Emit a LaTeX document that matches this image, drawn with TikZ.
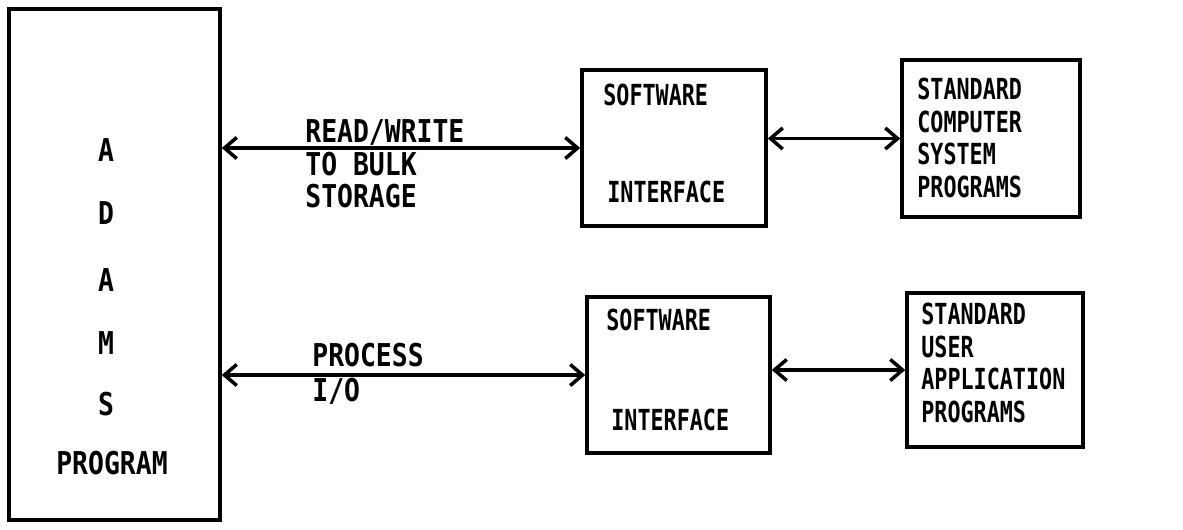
\documentclass[tikz,border=0pt]{standalone}
\usepackage{fontspec}
\setmainfont[FakeStretch=0.75]{DejaVu Sans Mono}
\newfontfamily\widemono[FakeStretch=0.84]{DejaVu Sans Mono}
\usetikzlibrary{arrows.meta}

\begin{document}
\begin{tikzpicture}[x=0.02cm,y=-0.02cm]
  \tikzset{box/.style = {shape=rectangle,draw,line width=2pt,inner sep=0pt}}
  \tikzset{txt/.style = {anchor=west,align=left,inner sep=0pt,font=\fontsize{16.5}{18.7}\selectfont\bfseries}}
  \tikzset{lbl/.style = {anchor=west,align=left,inner sep=0pt,font=\widemono\fontsize{17.9}{18.4}\selectfont\bfseries}}
  \tikzset{link/.style = {{Straight Barb[length=7pt,width=12pt]}-{Straight Barb[length=7pt,width=12pt]},line width=2pt}}

  \useasboundingbox (0,0) rectangle (1183,529);

	\node[box,minimum width=211*0.02cm,minimum height=511*0.02cm] (adams) at (114.5,264.5) {};
	\node[box,minimum width=184*0.02cm,minimum height=156*0.02cm] (sw1) at (674,148) {};
	\node[box,minimum width=178*0.02cm,minimum height=157*0.02cm] (std1) at (991,138.5) {};
	\node[box,minimum width=183*0.02cm,minimum height=156*0.02cm] (sw2) at (678.5,375) {};
	\node[box,minimum width=176*0.02cm,minimum height=154*0.02cm] (std2) at (995,370) {};

	% letters of the big box
	\foreach \ch/\y [count=\i] in {A/150, D/213, A/280, M/343, S/404}
	  \node[lbl,anchor=center] (let\i) at (106,\y) {\ch};
	\node[lbl,anchor=center] (prog) at (112,463) {PROGRAM};

	\node[txt] (sw1a) at (603,95) {SOFTWARE};
	\node[txt] (sw1b) at (607,192) {INTERFACE};
	\node[txt] (sw2a) at (606,320) {SOFTWARE};
	\node[txt] (sw2b) at (611,420) {INTERFACE};
	\node[txt] (std1t) at (917,138) {STANDARD\\COMPUTER\\SYSTEM\\PROGRAMS};
	\node[txt] (std2t) at (921,363) {STANDARD\\USER\\APPLICATION\\PROGRAMS};

	\node[lbl] (rw) at (305,164) {READ/WRITE\\TO BULK\\STORAGE};
	\node[lbl] (pio) at (312,374) {PROCESS\\[1.5pt]I/O};

       \foreach \from/\to in {adams/sw1, adams/sw2, sw1/std1, sw2/std2}
    \draw[link] (\to.west -| \from.east) -- (\to.west);
\end{tikzpicture}
\end{document}
